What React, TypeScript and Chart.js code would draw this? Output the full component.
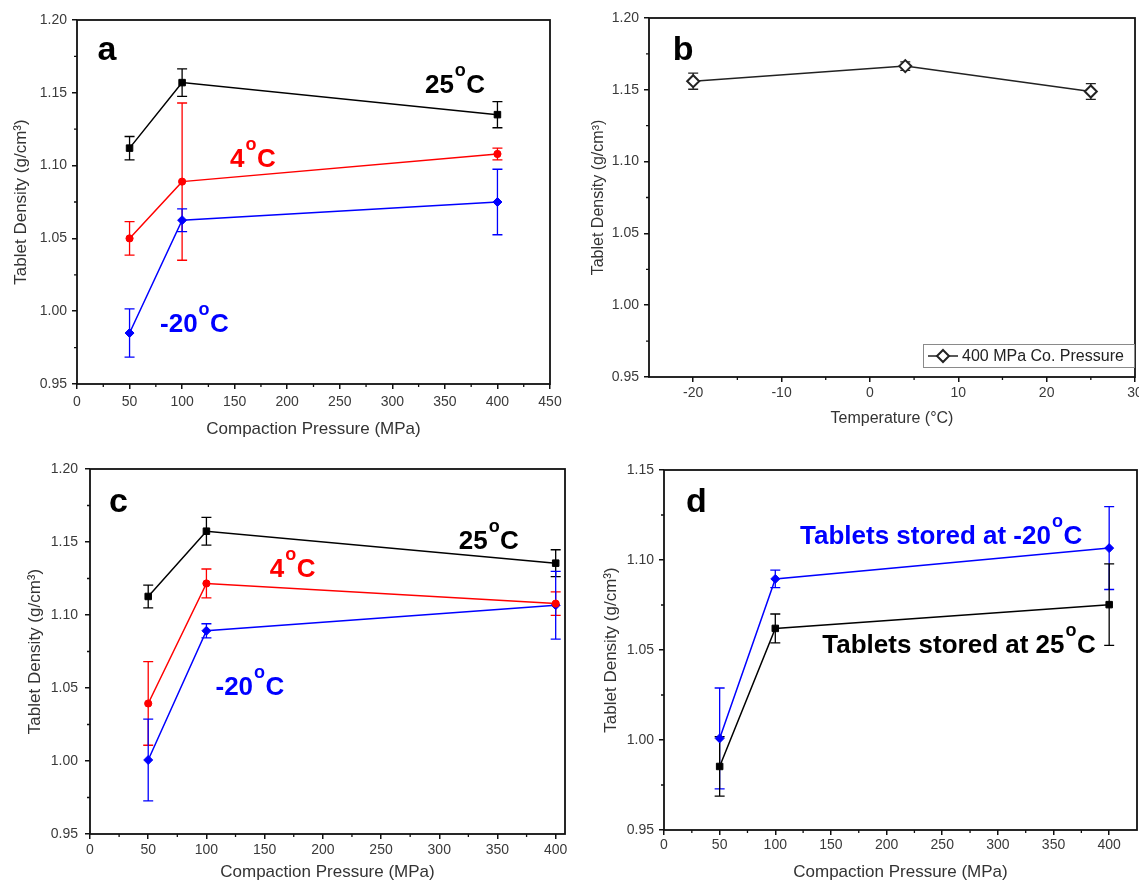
import React, { useEffect, useRef } from 'react';
import { Chart, registerables } from 'chart.js';

Chart.register(...registerables);

// ---------------- data ----------------
const pressureMPa = [50, 100, 400];
const temperatureC = [-20, 4, 25];

// panel a
const aDensity25 = [1.112, 1.157, 1.135];
const aError25 = [0.008, 0.0095, 0.009];
const aDensity4 = [1.05, 1.089, 1.108];
const aError4 = [0.0115, 0.054, 0.004];
const aDensityM20 = [0.985, 1.0625, 1.075];
const aErrorM20 = [0.0166, 0.0078, 0.0225];

// panel b
const bDensity400 = [1.156, 1.1665, 1.1488];
const bError400 = [0.0056, 0.003, 0.0055];

// panel c
const cDensity25 = [1.1127, 1.1574, 1.1355];
const cError25 = [0.0078, 0.0095, 0.0092];
const cDensity4 = [1.0394, 1.1216, 1.1078];
const cError4 = [0.0286, 0.0099, 0.008];
const cDensityM20 = [1.0007, 1.0892, 1.1067];
const cErrorM20 = [0.028, 0.0048, 0.0232];

// panel d
const dDensityM20 = [1.0009, 1.0895, 1.1066];
const dErrorM20 = [0.028, 0.0049, 0.023];
const dDensity25 = [0.9853, 1.062, 1.0752];
const dError25 = [0.0165, 0.008, 0.0226];

// tick labels
const pressureTicksA = [0, 50, 100, 150, 200, 250, 300, 350, 400, 450];
const pressureTicksCD = [0, 50, 100, 150, 200, 250, 300, 350, 400];
const temperatureTicks = [-20, -10, 0, 10, 20, 30];
const densityTicks = [0.95, 1.0, 1.05, 1.1, 1.15, 1.2];
const densityTicksD = [0.95, 1.0, 1.05, 1.1, 1.15];

const xTitlePressure = 'Compaction Pressure (MPa)';
const xTitleTemperature = 'Temperature (°C)';
const yTitle = 'Tablet Density (g/cm³)';

// ---------------- helpers ----------------
const FONT = '"Liberation Sans", Arial, Helvetica, sans-serif';
const BLACK = '#000000';
const RED = '#ff0000';
const BLUE = '#0000ff';

const midpoints = (arr: number[]) => arr.slice(1).map((v, i) => (v + arr[i]) / 2);
const pts = (xs: number[], ys: number[]) => xs.map((x, i) => ({ x, y: ys[i] }));

function drawLabel(ctx: CanvasRenderingContext2D, text: string, x: number, y: number, size: number, color: string) {
  ctx.fillStyle = color;
  ctx.textAlign = 'left';
  ctx.textBaseline = 'alphabetic';
  const parts = text.split('°');
  ctx.font = `bold ${size}px ${FONT}`;
  let cx = x;
  ctx.fillText(parts[0], cx, y);
  cx += ctx.measureText(parts[0]).width;
  if (parts.length > 1) {
    const ss = Math.round(size * 0.68);
    ctx.font = `bold ${ss}px ${FONT}`;
    ctx.fillText('o', cx + 1, y - size * 0.65);
    cx += ctx.measureText('o').width + 1.5;
    ctx.font = `bold ${size}px ${FONT}`;
    ctx.fillText(parts[1], cx, y);
  }
}

const decorPlugin = {
  id: 'decor',
  beforeDatasetsDraw(chart: any, _args: any, opts: any) {
    const { ctx } = chart;
    const xs = chart.scales.x;
    const ys = chart.scales.y;
    chart.data.datasets.forEach((ds: any, i: number) => {
      const errs = opts.errors && opts.errors[i];
      if (!errs) return;
      ctx.save();
      ctx.strokeStyle = ds.borderColor;
      ctx.lineWidth = 1.3;
      const cap = 5;
      ds.data.forEach((p: any, j: number) => {
        const e = errs[j];
        const px = xs.getPixelForValue(p.x);
        const t = ys.getPixelForValue(p.y + e);
        const b = ys.getPixelForValue(p.y - e);
        ctx.beginPath();
        ctx.moveTo(px, t);
        ctx.lineTo(px, b);
        ctx.moveTo(px - cap, t);
        ctx.lineTo(px + cap, t);
        ctx.moveTo(px - cap, b);
        ctx.lineTo(px + cap, b);
        ctx.stroke();
      });
      ctx.restore();
    });
  },
  afterDraw(chart: any, _args: any, opts: any) {
    const { ctx, chartArea: ca } = chart;
    const xs = chart.scales.x;
    const ys = chart.scales.y;
    ctx.save();
    // frame
    ctx.strokeStyle = '#111';
    ctx.lineWidth = 1.8;
    ctx.strokeRect(ca.left, ca.top, ca.right - ca.left, ca.bottom - ca.top);
    // minor ticks (outward)
    ctx.lineWidth = 1.3;
    ctx.beginPath();
    (opts.minorX || []).forEach((v: number) => {
      const px = xs.getPixelForValue(v);
      ctx.moveTo(px, ca.bottom);
      ctx.lineTo(px, ca.bottom + 3);
    });
    (opts.minorY || []).forEach((v: number) => {
      const py = ys.getPixelForValue(v);
      ctx.moveTo(ca.left, py);
      ctx.lineTo(ca.left - 3, py);
    });
    ctx.stroke();
    // text labels
    (opts.labels || []).forEach((l: any) => {
      drawLabel(ctx, l.text, xs.getPixelForValue(l.x), ys.getPixelForValue(l.y), l.size, l.color);
    });
    // legend
    if (opts.legend) {
      const lg = opts.legend;
      const w = 211;
      const h = 23;
      const left = ca.right - w - 1;
      const top = ca.bottom - h - 10;
      ctx.fillStyle = '#fff';
      ctx.fillRect(left, top, w, h);
      ctx.strokeStyle = '#8a8a8a';
      ctx.lineWidth = 1;
      ctx.strokeRect(left + 0.5, top + 0.5, w, h);
      const cy = top + h / 2 + 0.5;
      ctx.strokeStyle = '#222';
      ctx.lineWidth = 1.5;
      ctx.beginPath();
      ctx.moveTo(left + 5, cy);
      ctx.lineTo(left + 35, cy);
      ctx.stroke();
      ctx.fillStyle = '#fff';
      ctx.lineWidth = 2;
      ctx.beginPath();
      ctx.moveTo(left + 20, cy - 6);
      ctx.lineTo(left + 26, cy);
      ctx.lineTo(left + 20, cy + 6);
      ctx.lineTo(left + 14, cy);
      ctx.closePath();
      ctx.fill();
      ctx.stroke();
      ctx.fillStyle = '#222';
      ctx.font = `16px ${FONT}`;
      ctx.textAlign = 'left';
      ctx.textBaseline = 'middle';
      ctx.fillText(lg.text, left + 39, cy + 1);
    }
    ctx.restore();
  },
};

type PanelSpec = {
  width: number;
  height: number;
  area: { left: number; top: number; right: number; bottom: number };
  xMin: number;
  xMax: number;
  yMin: number;
  yMax: number;
  xTicks: number[];
  yTicks: number[];
  xTitle: string;
  xTitleSize: number;
  xTitlePad: number;
  yTitleSize: number;
  yTitlePad: number;
  xLabelPad: number;
  yLabelPad: number;
  datasets: any[];
  decor: any;
};

function makeConfig(p: PanelSpec): any {
  const tickFont = { family: FONT, size: 14 };
  return {
    type: 'scatter',
    data: { datasets: p.datasets },
    options: {
      animation: false,
      responsive: false,
      maintainAspectRatio: false,
      events: [],
      layout: {
        autoPadding: false,
        padding: { top: p.area.top, right: p.width - p.area.right, left: 0, bottom: 0 },
      },
      plugins: {
        legend: { display: false },
        tooltip: { enabled: false },
        decor: p.decor,
      },
      scales: {
        x: {
          type: 'linear',
          position: 'bottom',
          min: p.xMin,
          max: p.xMax,
          afterBuildTicks: (s: any) => {
            s.ticks = p.xTicks.map((v) => ({ value: v }));
          },
          afterFit: (s: any) => {
            s.height = p.height - p.area.bottom;
            s.paddingLeft = 0;
            s.paddingRight = 0;
          },
          border: { display: false },
          grid: { drawOnChartArea: false, drawTicks: true, tickLength: 5, color: '#111', lineWidth: 1.5 },
          ticks: {
            color: '#3a3a3a',
            font: tickFont,
            padding: p.xLabelPad,
            maxRotation: 0,
            autoSkip: false,
            callback: (v: any) => String(v),
          },
          title: {
            display: true,
            text: p.xTitle,
            color: '#333',
            font: { family: FONT, size: p.xTitleSize },
            padding: { top: 0, bottom: p.xTitlePad },
          },
        },
        y: {
          type: 'linear',
          position: 'left',
          min: p.yMin,
          max: p.yMax,
          afterBuildTicks: (s: any) => {
            s.ticks = p.yTicks.map((v) => ({ value: v }));
          },
          afterFit: (s: any) => {
            s.width = p.area.left;
            s.paddingTop = 0;
            s.paddingBottom = 0;
          },
          border: { display: false },
          grid: { drawOnChartArea: false, drawTicks: true, tickLength: 5, color: '#111', lineWidth: 1.5 },
          ticks: {
            color: '#3a3a3a',
            font: tickFont,
            padding: p.yLabelPad,
            autoSkip: false,
            callback: (v: any) => Number(v).toFixed(2),
          },
          title: {
            display: true,
            text: yTitle,
            color: '#333',
            font: { family: FONT, size: p.yTitleSize },
            padding: { top: p.yTitlePad, bottom: 0 },
          },
        },
      },
    },
    plugins: [decorPlugin],
  };
}

function series(label: string, xs: number[], ys: number[], color: string, style: string, radius: number, fill?: string, bw = 1) {
  return {
    label,
    data: pts(xs, ys),
    showLine: true,
    borderColor: color,
    backgroundColor: fill || color,
    borderWidth: 1.5,
    pointStyle: style,
    pointRadius: radius,
    pointBorderWidth: bw,
    pointBackgroundColor: fill || color,
    pointBorderColor: color,
    tension: 0,
    clip: false,
  };
}

const panelA: PanelSpec = {
  width: 570,
  height: 440,
  area: { left: 77, top: 20, right: 550, bottom: 384 },
  xMin: 0,
  xMax: 450,
  yMin: 0.95,
  yMax: 1.2,
  xTicks: pressureTicksA,
  yTicks: densityTicks,
  xTitle: xTitlePressure,
  xTitleSize: 17,
  xTitlePad: 0,
  yTitleSize: 17,
  yTitlePad: 11,
  xLabelPad: 5,
  yLabelPad: 5,
  datasets: [
    series('25°C', pressureMPa, aDensity25, BLACK, 'rect', 4.6),
    series('4°C', pressureMPa, aDensity4, RED, 'circle', 3.6),
    series('-20°C', pressureMPa, aDensityM20, BLUE, 'rectRot', 4.5),
  ],
  decor: {
    errors: [aError25, aError4, aErrorM20],
    minorX: midpoints(pressureTicksA),
    minorY: midpoints(densityTicks),
    labels: [
      { text: 'a', x: 19.5, y: 1.1725, size: 34, color: BLACK },
      { text: '25°C', x: 331, y: 1.1499, size: 26, color: BLACK },
      { text: '4°C', x: 145.6, y: 1.099, size: 26, color: RED },
      { text: '-20°C', x: 79, y: 0.9857, size: 26, color: BLUE },
    ],
  },
};

const panelB: PanelSpec = {
  width: 569,
  height: 440,
  area: { left: 79, top: 18, right: 565, bottom: 377 },
  xMin: -25,
  xMax: 30,
  yMin: 0.95,
  yMax: 1.2,
  xTicks: temperatureTicks,
  yTicks: densityTicks,
  xTitle: xTitleTemperature,
  xTitleSize: 16,
  xTitlePad: 12,
  yTitleSize: 16,
  yTitlePad: 19,
  xLabelPad: 3,
  yLabelPad: 5,
  datasets: [series('400 MPa Co. Pressure', temperatureC, bDensity400, '#222', 'rectRot', 6, '#ffffff', 2)],
  decor: {
    errors: [bError400],
    minorX: midpoints(temperatureTicks),
    minorY: midpoints(densityTicks),
    labels: [{ text: 'b', x: -22.3, y: 1.1708, size: 34, color: BLACK }],
    legend: { text: '400 MPa Co. Pressure' },
  },
};

const panelC: PanelSpec = {
  width: 570,
  height: 443,
  area: { left: 90, top: 29, right: 565, bottom: 394 },
  xMin: 0,
  xMax: 408,
  yMin: 0.95,
  yMax: 1.2,
  xTicks: pressureTicksCD,
  yTicks: densityTicks,
  xTitle: xTitlePressure,
  xTitleSize: 17,
  xTitlePad: 0,
  yTitleSize: 17,
  yTitlePad: 25,
  xLabelPad: 3,
  yLabelPad: 7,
  datasets: [
    series('25°C', pressureMPa, cDensity25, BLACK, 'rect', 4.6),
    series('4°C', pressureMPa, cDensity4, RED, 'circle', 3.6),
    series('-20°C', pressureMPa, cDensityM20, BLUE, 'rectRot', 4.5),
  ],
  decor: {
    errors: [cError25, cError4, cErrorM20],
    minorX: midpoints(pressureTicksCD),
    minorY: midpoints(densityTicks),
    labels: [
      { text: 'c', x: 16.3, y: 1.1705, size: 34, color: BLACK },
      { text: '25°C', x: 316.7, y: 1.1452, size: 26, color: BLACK },
      { text: '4°C', x: 154.5, y: 1.1262, size: 26, color: RED },
      { text: '-20°C', x: 107.8, y: 1.0452, size: 26, color: BLUE },
    ],
  },
};

const panelD: PanelSpec = {
  width: 569,
  height: 443,
  area: { left: 94, top: 30, right: 567, bottom: 390 },
  xMin: 0,
  xMax: 425,
  yMin: 0.95,
  yMax: 1.15,
  xTicks: pressureTicksCD,
  yTicks: densityTicksD,
  xTitle: xTitlePressure,
  xTitleSize: 17,
  xTitlePad: 0,
  yTitleSize: 17,
  yTitlePad: 31,
  xLabelPad: 2,
  yLabelPad: 5,
  datasets: [
    series('Tablets stored at -20°C', pressureMPa, dDensityM20, BLUE, 'rectRot', 4.5),
    series('Tablets stored at 25°C', pressureMPa, dDensity25, BLACK, 'rect', 4.6),
  ],
  decor: {
    errors: [dErrorM20, dError25],
    minorX: midpoints(pressureTicksCD),
    minorY: midpoints(densityTicksD),
    labels: [
      { text: 'd', x: 19.8, y: 1.1268, size: 34, color: BLACK },
      { text: 'Tablets stored at -20°C', x: 122.2, y: 1.1087, size: 26, color: BLUE },
      { text: 'Tablets stored at 25°C', x: 142.2, y: 1.0482, size: 26, color: BLACK },
    ],
  },
};

function Panel({ left, top, spec }: { left: number; top: number; spec: PanelSpec }) {
  const ref = useRef<HTMLCanvasElement>(null);
  useEffect(() => {
    const chart = new Chart(ref.current as HTMLCanvasElement, makeConfig(spec));
    return () => chart.destroy();
  }, []);
  return (
    <canvas
      ref={ref}
      width={spec.width}
      height={spec.height}
      style={{ position: 'absolute', left, top, width: spec.width, height: spec.height }}
    />
  );
}

export default function App() {
  return (
    <div style={{ position: 'absolute', left: 0, top: 0, width: 1139, height: 883, background: '#fff', overflow: 'hidden' }}>
      <Panel left={0} top={0} spec={panelA} />
      <Panel left={570} top={0} spec={panelB} />
      <Panel left={0} top={440} spec={panelC} />
      <Panel left={570} top={440} spec={panelD} />
    </div>
  );
}
